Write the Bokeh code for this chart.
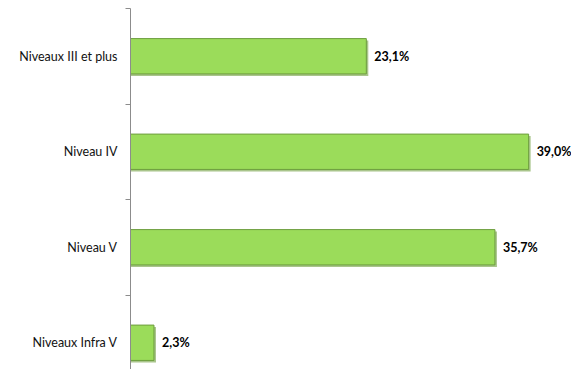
from bokeh.plotting import figure
from bokeh.models import ColumnDataSource, FixedTicker, Range1d
from bokeh.core.properties import value
from bokeh.embed import file_html
from bokeh.resources import INLINE

categories = ["Niveaux III et plus", "Niveau IV", "Niveau V", "Niveaux Infra V"]
values = [23.1, 39.0, 35.7, 2.3]
value_labels = ["23,1%", "39,0%", "35,7%", "2,3%"]

n = len(categories)
centers = [n - 0.5 - i for i in range(n)]
boundaries = [float(i) for i in range(n + 1)]

X_END = 43.2
Y_BOTTOM = 0.22
px_x = X_END / 441.0      # data units per pixel (x)
px_y = (4.0 - Y_BOTTOM) / 361.0  # data units per pixel (y)

src = ColumnDataSource(dict(
    y=centers,
    v=values,
    lab=value_labels,
    cat=categories,
    ys=[c - 2 * px_y for c in centers],
    vs=[v + 2 * px_x for v in values],
))

p = figure(width=571, height=369, output_backend="svg", toolbar_location=None,
           x_range=Range1d(0, X_END), y_range=Range1d(Y_BOTTOM, 4.0),
           min_border_left=130, min_border_right=0, min_border_top=8, min_border_bottom=0)
p.outline_line_color = None
p.xaxis.visible = False
p.xgrid.visible = False
p.ygrid.visible = False
p.background_fill_color = "white"
p.border_fill_color = "white"

# soft shadow (bottom / right)
p.hbar(y="ys", right="vs", left=0, height=0.37, source=src,
       fill_color="#6f9e3e", fill_alpha=0.6, line_color=None)
p.hbar(y="y", right="v", left=0, height=0.37, source=src,
       fill_color="#9bdc5a", line_color="#6e9e3f", line_width=1)

p.text(x="v", y="y", text="lab", source=src, x_offset=8,
       text_font=value("Lato"), text_font_style="bold", text_font_size="12.5px",
       text_color="#000000", text_align="left", text_baseline="middle")

ax = p.yaxis[0]
ax.ticker = FixedTicker(ticks=centers, minor_ticks=boundaries)
ax.major_label_overrides = {c: cat for c, cat in zip(centers, categories)}
ax.major_tick_out = 0
ax.major_tick_in = 0
ax.minor_tick_out = 5
ax.minor_tick_in = 0
ax.minor_tick_line_color = "#8c8c8c"
ax.axis_line_color = "#8c8c8c"
ax.major_label_standoff = 8
ax.major_label_text_font = "Lato"
ax.major_label_text_font_size = "12.5px"
ax.major_label_text_color = "#111111"

open("out.html", "w").write(file_html(p, INLINE))
